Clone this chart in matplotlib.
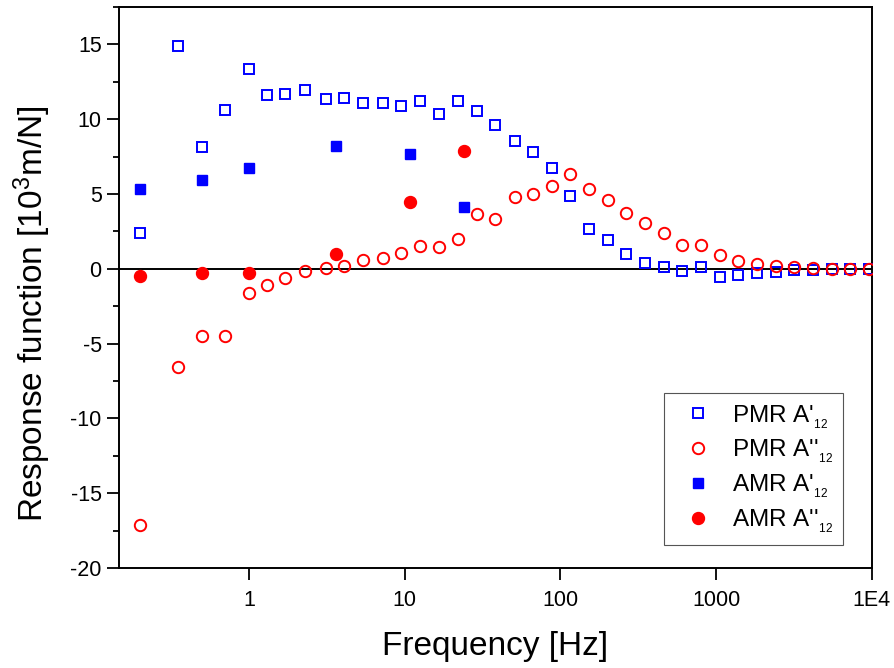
import matplotlib
matplotlib.use("Agg")
import matplotlib.pyplot as plt

plt.rcParams['font.family'] = ['Liberation Sans', 'DejaVu Sans']
plt.rcParams['mathtext.fontset'] = 'custom'
plt.rcParams['mathtext.rm'] = 'Liberation Sans'
plt.rcParams['mathtext.it'] = 'Liberation Sans:italic'
plt.rcParams['mathtext.bf'] = 'Liberation Sans:bold'
plt.rcParams['axes.unicode_minus'] = False

# passive microrheology, frequency in Hz
pmr_freq = [0.2, 0.35, 0.5, 0.7, 1.0, 1.3, 1.7, 2.3, 3.1, 4.1, 5.4, 7.3, 9.5,
            12.6, 16.7, 22, 29, 38, 51, 67, 88, 116, 152, 201, 265, 349, 460,
            607, 798, 1057, 1391, 1833, 2413, 3190, 4207, 5550, 7300, 9560]
pmr_real = [2.39, 14.92, 8.16, 10.64, 13.33, 11.65, 11.70, 11.92, 11.34, 11.45,
            11.09, 11.11, 10.91, 11.25, 10.38, 11.23, 10.56, 9.60, 8.52, 7.79,
            6.71, 4.87, 2.64, 1.90, 1.01, 0.38, 0.09, -0.16, 0.11, -0.58, -0.40,
            -0.30, -0.23, -0.11, -0.05, 0.0, 0.0, 0.0]
pmr_imag = [-17.11, -6.56, -4.52, -4.52, -1.59, -1.05, -0.60, -0.16, 0.04, 0.22,
            0.56, 0.71, 1.03, 1.50, 1.43, 1.99, 3.64, 3.36, 4.81, 5.03, 5.52,
            6.31, 5.32, 4.60, 3.76, 3.04, 2.37, 1.61, 1.61, 0.89, 0.54, 0.31,
            0.17, 0.11, 0.07, 0.02, 0.0, 0.0]

# active microrheology
amr_freq = [0.2, 0.5, 1.0, 3.6, 10.8, 24.0]
amr_real = [5.34, 5.95, 6.73, 8.21, 7.67, 4.13]
amr_imag = [-0.45, -0.25, -0.25, 0.96, 4.45, 7.89]

xtick_vals = [1, 10, 100, 1000, 10000]
xtick_labels = ['1', '10', '100', '1000', '1E4']
ytick_vals = [-20, -15, -10, -5, 0, 5, 10, 15]

fig = plt.figure(figsize=(8.95, 6.68), dpi=100)
ax = fig.add_axes([0.133, 0.1497, 0.841, 0.8398])

ax.axhline(0, color='black', lw=1.4, zorder=1)

ax.plot(pmr_freq, pmr_real, 's', ms=7.6, mfc='none', mec='#0000ff', mew=1.4,
        label="PMR A'$_{_{12}}$", zorder=3)
ax.plot(pmr_freq, pmr_imag, 'o', ms=8.2, mfc='none', mec='#ff0000', mew=1.4,
        label="PMR A''$_{_{12}}$", zorder=3)
ax.plot(amr_freq, amr_real, 's', ms=7.8, color='#0000ff', mec='#0000ff',
        label="AMR A'$_{_{12}}$", zorder=4)
ax.plot(amr_freq, amr_imag, 'o', ms=8.6, color='#ff0000', mec='#ff0000',
        label="AMR A''$_{_{12}}$", zorder=4)

ax.set_xscale('log')
ax.set_xlim(0.146, 10000)
ax.set_ylim(-20, 17.5)
ax.set_xticks(xtick_vals)
ax.set_xticklabels(xtick_labels)
ax.xaxis.set_minor_locator(matplotlib.ticker.NullLocator())
ax.set_yticks(ytick_vals)
ax.yaxis.set_minor_locator(matplotlib.ticker.MultipleLocator(2.5))

ax.tick_params(which='major', direction='out', length=8.5, width=1.3,
               labelsize=15.5)
ax.tick_params(axis='y', which='major', pad=4)
ax.tick_params(axis='x', which='major', pad=7)
ax.tick_params(which='minor', direction='out', length=4.5, width=1.3)
ax.tick_params(top=False, right=False, which='both')
for sp in ax.spines.values():
    sp.set_linewidth(1.4)

ax.set_xlabel('Frequency [Hz]', fontsize=24, labelpad=15)
ax.set_ylabel('Response function [10$^3$m/N]', fontsize=24)
ax.yaxis.set_label_coords(-0.088, 0.453)

leg = ax.legend(loc='lower right', bbox_to_anchor=(0.962, 0.041),
                borderaxespad=0, numpoints=1, fontsize=17.5, fancybox=False,
                framealpha=1, edgecolor='#555555', handlelength=2.0,
                handletextpad=0.4, labelspacing=0.3, borderpad=0.4)
leg.get_frame().set_linewidth(0.8)

fig.savefig('out.png', dpi=100)
